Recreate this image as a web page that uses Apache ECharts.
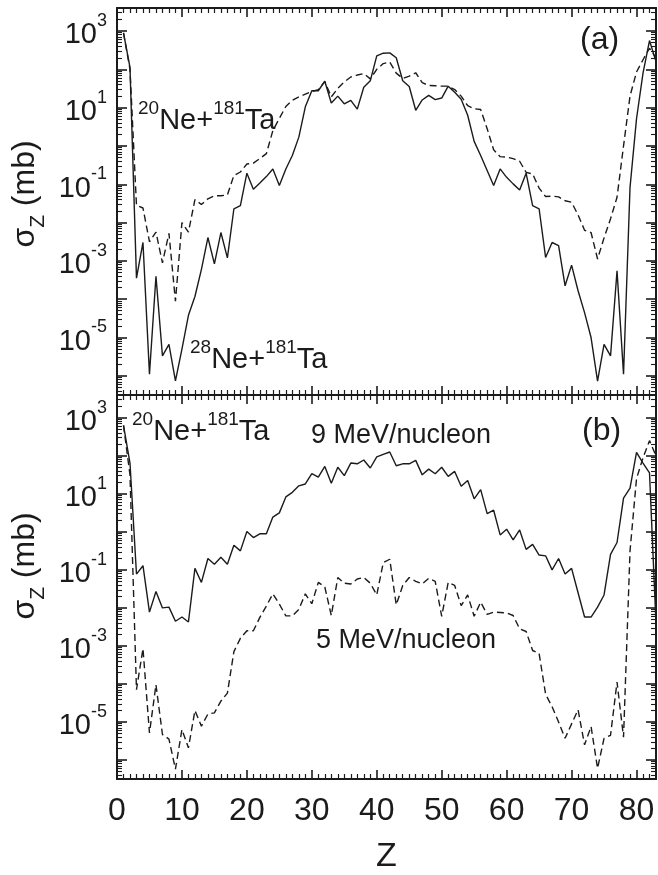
<!DOCTYPE html>
<html>
<head>
<meta charset="utf-8">
<script src="https://cdn.jsdelivr.net/npm/echarts@6/dist/echarts.min.js"></script>
<style>
  html, body { margin: 0; padding: 0; background: #fff; }
  #main { width: 658px; height: 875px; }
</style>
</head>
<body>
<div id="main"></div>
<script>
// charge number Z of each fragment
const zValues = [1, 2, 3, 4, 5, 6, 7, 8, 9, 10, 11, 12, 13, 14, 15, 16, 17, 18, 19, 20,
  21, 22, 23, 24, 25, 26, 27, 28, 29, 30, 31, 32, 33, 34, 35, 36, 37, 38, 39, 40,
  41, 42, 43, 44, 45, 46, 47, 48, 49, 50, 51, 52, 53, 54, 55, 56, 57, 58, 59, 60,
  61, 62, 63, 64, 65, 66, 67, 68, 69, 70, 71, 72, 73, 74, 75, 76, 77, 78, 79, 80,
  81, 82, 83]

// log10(sigma_Z / mb)
// panel (a), solid: 28Ne+181Ta
const logSigA28 = [2.95, 2.05, -3.45, -2.52, -5.96, -3.4, -5.48, -5.18, -6.13, -5.3,
  -4.42, -3.93, -3.22, -2.39, -3.08, -2.26, -2.92, -1.64, -1.56, -0.71,
  -1.13, -0.97, -0.8, -0.6, -1.03, -0.6, -0.25, 0.23, 1.02, 1.44,
  1.44, 1.69, 1.12, 1.3, 1.1, 1.19, 0.96, 1.53, 1.7, 2.35,
  2.42, 2.43, 2.3, 1.7, 1.55, 0.93, 1.2, 1.32, 1.21, 1.25,
  1.56, 1.4, 1.22, 0.8, 0.12, -0.25, -0.64, -1.03, -0.6, -0.82,
  -0.99, -1.15, -0.71, -1.56, -1.64, -2.91, -2.52, -2.6, -3.65, -3.11,
  -3.78, -4.35, -5.0, -6.14, -5.18, -5.48, -3.26, -5.96, -1.08, 0.71,
  1.9, 2.75, 2.2]
// panel (a), dashed: 20Ne+181Ta
const logSigA20 = [2.95, 2.0, -1.55, -1.62, -2.5, -2.25, -3.05, -2.28, -4.05, -2.0,
  -2.25, -1.4, -1.53, -1.38, -1.3, -1.3, -1.28, -0.77, -0.68, -0.47,
  -0.45, -0.33, -0.2, 0.4, 0.72, 1.03, 1.19, 1.28, 1.35, 1.42,
  1.47, 1.68, 1.28, 1.5, 1.67, 1.8, 1.85, 1.89, 1.75, 2.0,
  2.15, 2.19, 1.9, 1.76, 1.82, 1.91, 1.65, 1.58, 1.57, 1.56,
  1.56, 1.47, 1.3, 1.05, 0.97, 0.95, 0.45, -0.1, -0.28, -0.29,
  -0.33, -0.4, -0.69, -0.73, -1.1, -1.32, -1.31, -1.33, -1.43, -1.47,
  -1.8, -2.2, -2.26, -2.95, -2.4, -1.9, -1.34, 0.0, 1.3, 1.93,
  2.25, 2.55, 2.3]
// panel (b), solid: 9 MeV/nucleon
const logSigB9 = [2.8, 1.81, -1.11, -0.89, -2.11, -1.57, -2.0, -1.98, -2.35, -2.24,
  -2.37, -0.96, -1.33, -0.7, -0.85, -0.67, -0.85, -0.35, -0.5, 0.01,
  -0.15, -0.05, -0.05, 0.39, 0.5, 0.92, 1.04, 1.21, 1.26, 1.53,
  1.44, 1.72, 1.28, 1.7, 1.48, 1.81, 1.79, 1.89, 1.68, 1.97,
  2.04, 2.1, 1.74, 1.79, 1.79, 1.88, 1.5, 1.65, 1.53, 1.7,
  1.46, 1.59, 1.2, 1.35, 0.87, 1.11, 0.48, 0.57, -0.08, 0.07,
  -0.21, 0.05, -0.46, -0.33, -0.61, -0.63, -1.0, -0.7, -1.11, -0.96,
  -1.6, -2.24, -2.24, -1.98, -1.66, -0.59, -0.28, 0.89, 1.15, 2.09,
  1.81, 1.55, -2.4]
// panel (b), dashed: 5 MeV/nucleon
const logSigB5 = [2.8, 1.5, -4.15, -3.07, -5.29, -4.02, -5.33, -5.45, -6.24, -5.2,
  -5.68, -4.7, -5.11, -4.79, -4.76, -4.45, -4.24, -3.15, -2.8, -2.6,
  -2.6, -2.25, -1.95, -1.63, -1.9, -2.21, -2.21, -2.04, -1.63, -1.89,
  -1.33, -1.45, -2.2, -1.2, -1.35, -1.37, -1.24, -1.2, -1.35, -1.66,
  -0.81, -0.72, -1.92, -1.41, -1.2, -1.3, -1.37, -1.22, -1.3, -2.22,
  -1.33, -1.41, -1.94, -1.66, -2.22, -1.85, -2.17, -2.11, -2.12, -2.13,
  -2.2, -2.55, -2.62, -3.12, -3.2, -4.27, -4.6, -5.0, -5.43, -5.05,
  -4.68, -5.6, -5.12, -6.22, -5.43, -5.35, -3.95, -5.4, -0.5, 1.4,
  1.95, 2.4, 2.0]

// axis ticks and labels
const zMajor = [0, 10, 20, 30, 40, 50, 60, 70, 80]
const yMajor = [-6, -5, -4, -3, -2, -1, 0, 1, 2, 3]
const yLabelled = [-5, -3, -1, 1, 3]

const Z_MIN = 0
const Z_MAX = 83
const LOG_MIN = -6.5
const LOG_MAX = 3.6
const INK = '#1b1b1b'
const FONT = 'Liberation Sans, Arial, Helvetica, sans-serif'

const zMinor = []
for (let z = 1; z < Z_MAX; z++) if (z % 10 !== 0) zMinor.push(z)
const yMinor = []
for (let e = -7; e <= 3; e++) {
  for (let k = 2; k <= 9; k++) {
    const v = e + Math.log10(k)
    if (v > LOG_MIN && v < LOG_MAX) yMinor.push(v)
  }
}

const pairs = (ys) => zValues.map((z, i) => [z, ys[i]])

function xAxesFor (grid, withLabels) {
  const axes = []
  for (const pos of ['bottom', 'top']) {
    const labelled = withLabels && pos === 'bottom'
    axes.push({
      type: 'value', gridIndex: grid, position: pos, min: Z_MIN, max: Z_MAX,
      axisLine: { show: true, onZero: false, lineStyle: { color: INK, width: 2 } },
      splitLine: { show: false },
      axisTick: { inside: true, length: 9, customValues: zMajor, lineStyle: { color: INK, width: 1.6 } },
      axisLabel: labelled
        ? { customValues: zMajor, margin: 16, fontSize: 32, fontFamily: FONT, color: INK }
        : { show: false },
      name: labelled ? 'Z' : '',
      nameLocation: 'middle',
      nameGap: 61,
      nameTextStyle: { fontSize: 34, fontFamily: FONT, color: INK }
    })
    axes.push({
      type: 'value', gridIndex: grid, position: pos, min: Z_MIN, max: Z_MAX,
      axisLine: { show: false, onZero: false },
      splitLine: { show: false },
      axisTick: { inside: true, length: 5, customValues: zMinor, lineStyle: { color: INK, width: 1.2 } },
      axisLabel: { show: false }
    })
  }
  return axes
}

function yAxesFor (grid) {
  const axes = []
  for (const pos of ['left', 'right']) {
    axes.push({
      type: 'value', gridIndex: grid, position: pos, min: LOG_MIN, max: LOG_MAX,
      axisLine: { show: true, onZero: false, lineStyle: { color: INK, width: 2 } },
      splitLine: { show: false },
      axisTick: { inside: true, length: 10, customValues: yMajor, lineStyle: { color: INK, width: 1.6 } },
      axisLabel: pos === 'left'
        ? {
            customValues: yLabelled,
            margin: 10,
            formatter: (v) => '{b|10}{s|' + v + '}',
            rich: {
              b: { fontSize: 29, fontFamily: FONT, color: INK, lineHeight: 38, verticalAlign: 'bottom' },
              s: { fontSize: 18, fontFamily: FONT, color: INK, lineHeight: 20, verticalAlign: 'top' }
            }
          }
        : { show: false }
    })
    axes.push({
      type: 'value', gridIndex: grid, position: pos, min: LOG_MIN, max: LOG_MAX,
      axisLine: { show: false, onZero: false },
      splitLine: { show: false },
      axisTick: { inside: true, length: 5, customValues: yMinor, lineStyle: { color: INK, width: 1.1 } },
      axisLabel: { show: false }
    })
  }
  return axes
}

const supText = {
  b: { fontSize: 29, fontFamily: FONT, fill: INK, lineHeight: 36, verticalAlign: 'bottom' },
  s: { fontSize: 19, fontFamily: FONT, fill: INK, lineHeight: 22, verticalAlign: 'top' }
}

function label (x, y, text, rich, extra) {
  return Object.assign({
    type: 'text', x: x, y: y, z: 10,
    style: { text: text, rich: rich, fill: INK, font: '27px ' + FONT, align: 'left', verticalAlign: 'middle' }
  }, extra || {})
}

const yTitleRich = {
  g: { fontSize: 32, fontFamily: FONT, fill: INK, lineHeight: 40, verticalAlign: 'top' },
  z: { fontSize: 21, fontFamily: FONT, fill: INK, lineHeight: 30, verticalAlign: 'bottom' }
}
const yTitle = '{g|σ}{z|Z}{g| (mb)}'

function lineSeries (name, xi, yi, ys, dashed) {
  return {
    name: name, type: 'line', xAxisIndex: xi, yAxisIndex: yi,
    data: pairs(ys), showSymbol: false, symbol: 'none',
    lineStyle: { color: INK, width: 1.4, type: dashed ? [7, 4] : 'solid' }
  }
}

const chart = echarts.init(document.getElementById('main'))
chart.setOption({
  animation: false,
  backgroundColor: '#fff',
  grid: [
    { left: 117, width: 539, top: 8, height: 387 },
    { left: 117, width: 539, top: 395, height: 388 }
  ],
  xAxis: [...xAxesFor(0, false), ...xAxesFor(1, true)],
  yAxis: [...yAxesFor(0), ...yAxesFor(1)],
  series: [
    lineSeries('28Ne+181Ta', 0, 0, logSigA28, false),
    lineSeries('20Ne+181Ta', 0, 0, logSigA20, true),
    lineSeries('9 MeV/nucleon', 4, 4, logSigB9, false),
    lineSeries('5 MeV/nucleon', 4, 4, logSigB5, true)
  ],
  graphic: [
    label(29, 194, yTitle, yTitleRich, { rotation: Math.PI / 2, style: { text: yTitle, rich: yTitleRich, align: 'center', verticalAlign: 'middle' } }),
    label(29, 566, yTitle, yTitleRich, { rotation: Math.PI / 2, style: { text: yTitle, rich: yTitleRich, align: 'center', verticalAlign: 'middle' } }),
    label(138, 117, '{s|20}{b|Ne+}{s|181}{b|Ta}', supText),
    label(190, 356, '{s|28}{b|Ne+}{s|181}{b|Ta}', supText),
    label(132, 428, '{s|20}{b|Ne+}{s|181}{b|Ta}', supText),
    label(311, 436, '9 MeV/nucleon'),
    label(316, 641, '5 MeV/nucleon'),
    label(580, 40, '(a)', null, { style: { text: '(a)', fill: INK, font: '32px ' + FONT, align: 'left', verticalAlign: 'middle' } }),
    label(582, 431, '(b)', null, { style: { text: '(b)', fill: INK, font: '32px ' + FONT, align: 'left', verticalAlign: 'middle' } })
  ]
})
</script>
</body>
</html>
